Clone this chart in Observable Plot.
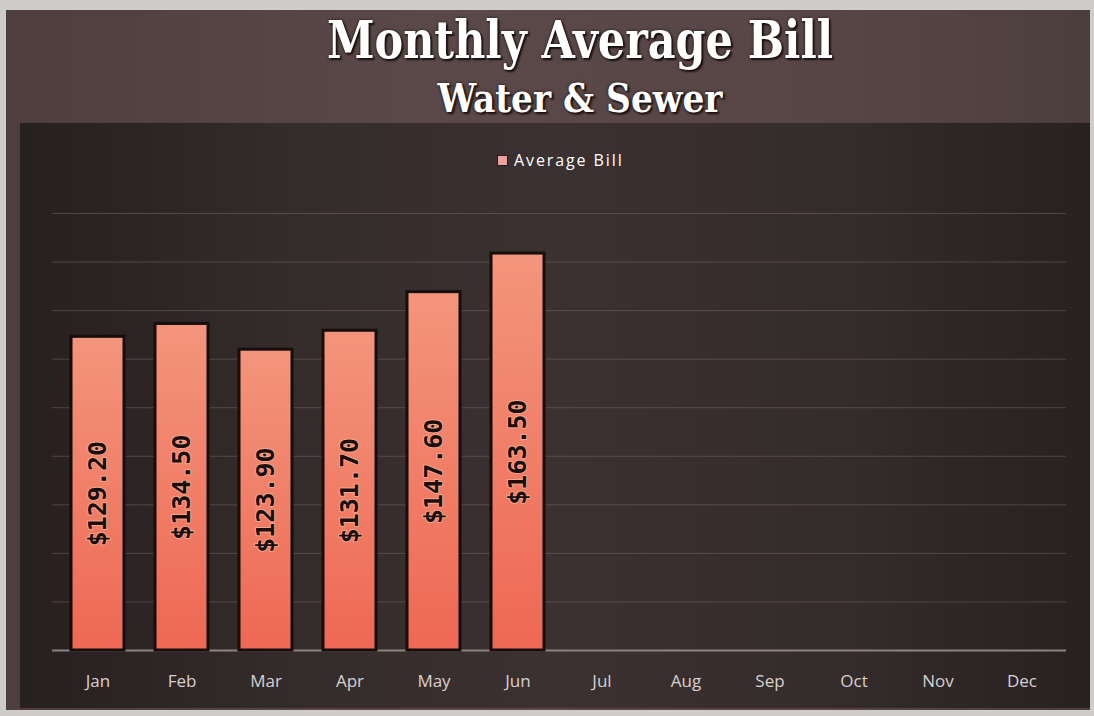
<!DOCTYPE html>
<html>
<head>
<meta charset="utf-8">
<script src="https://cdn.jsdelivr.net/npm/d3@7"></script>
<script src="https://cdn.jsdelivr.net/npm/@observablehq/plot@0.6"></script>
<style>
  html, body { margin: 0; padding: 0; background: #cfcccc; width: 1094px; height: 716px; overflow: hidden; }
  #frame { position: absolute; left: 6px; top: 10px; width: 1084px; height: 700px;
           background: linear-gradient(to right, #4e3e3e, #5b4949 40%, #584646 75%, #4d3e3e); }
  #title, #subtitle { position: absolute; left: 280px; width: 600px; text-align: center; color: #fff;
           font-family: "DejaVu Serif Condensed", "DejaVu Serif", serif; font-weight: bold;
           text-shadow: 2px 2px 2px #1a0f0f, 0 0 3px #1a0f0f; white-space: nowrap; }
  #title { top: 8px; font-size: 53px; line-height: 62px; transform: scaleX(0.9); }
  #subtitle { top: 75px; font-size: 39px; line-height: 46px; transform: scaleX(0.98); }
  #plot { position: absolute; left: 20px; top: 123px; width: 1070px; height: 585px;
          background: linear-gradient(to right, #272020, #342b2b 25%, #3b3131 50%, #342b2b 78%, #272121); }
  #legend { position: absolute; left: 497px; top: 149px; color: #fff; font-family: "Open Sans", sans-serif;
            font-size: 16px; letter-spacing: 1.9px; line-height: 22px; display: flex; align-items: center; gap: 6px; }
  #legend .sw { width: 9px; height: 9px; background: #eea0a0; border: 1px solid #2a1c1c; }
</style>
</head>
<body>
<div id="frame"></div>
<div id="title">Monthly Average Bill</div>
<div id="subtitle">Water &amp; Sewer</div>
<div id="plot"></div>
<div id="legend"><span class="sw"></span><span>Average Bill</span></div>
<script>
const months = ["Jan", "Feb", "Mar", "Apr", "May", "Jun", "Jul", "Aug", "Sep", "Oct", "Nov", "Dec"];
const averageBill = [129.20, 134.50, 123.90, 131.70, 147.60, 163.50];
const gridValues = [20, 40, 60, 80, 100, 120, 140, 160, 180];

const data = averageBill.map((v, i) => ({month: months[i], value: v}));

const defs = () => {
  const g = d3.create("svg:defs");
  const lg = g.append("linearGradient").attr("id", "barGrad").attr("x1", 0).attr("y1", 0).attr("x2", 0).attr("y2", 1);
  lg.append("stop").attr("offset", "0%").attr("stop-color", "#f3957c");
  lg.append("stop").attr("offset", "100%").attr("stop-color", "#ee6853");
  return g.node();
};

const chart = Plot.plot({
  width: 1070,
  height: 585,
  marginLeft: 32,
  marginRight: 24,
  marginTop: 90,
  marginBottom: 58,
  style: {background: "transparent", fontFamily: "Open Sans, sans-serif"},
  x: {domain: months, paddingInner: 0.37, paddingOuter: 0.185, label: null},
  y: {domain: [0, 180], axis: null},
  marks: [
    defs,
    Plot.ruleY(gridValues, {stroke: "#7a6a6a", strokeOpacity: 0.5, strokeWidth: 1}),
    Plot.ruleY([0], {stroke: "#8c8282", strokeWidth: 2}),
    Plot.barY(data, {x: "month", y: "value", fill: "url(#barGrad)", stroke: "#160d0d", strokeWidth: 3}),
    Plot.text(data, {
      x: "month", y: d => d.value / 2,
      text: d => "$" + d.value.toFixed(2),
      rotate: -90, fontSize: 25, fontWeight: "bold",
      fontFamily: "DejaVu Sans Mono, monospace",
      fill: "#1a0e0e", stroke: "#f7a58c", strokeWidth: 2, paintOrder: "stroke"
    }),
    Plot.axisX({tickSize: 0, tickPadding: 24, fontSize: 17, color: "#d8d0d0", label: null})
  ]
});
document.getElementById("plot").appendChild(chart);
</script>
</body>
</html>
